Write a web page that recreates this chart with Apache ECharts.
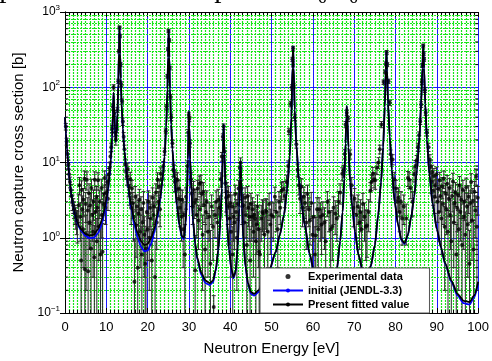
<!DOCTYPE html>
<html>
<head>
<meta charset="utf-8">
<script src="https://cdn.jsdelivr.net/npm/echarts@6/dist/echarts.min.js"></script>
<style>
  html, body { margin: 0; padding: 0; background: #fff; }
  #chart { width: 492px; height: 361px; }
</style>
</head>
<body>
<div id="chart"></div>
<script>
// x ticks / y decades
const xTicks = [0, 10, 20, 30, 40, 50, 60, 70, 80, 90, 100]
const yMinor = [0.2, 0.3, 0.4, 0.5, 0.6, 0.7, 0.8, 0.9, 2, 3, 4, 5, 6, 7, 8, 9,
  20, 30, 40, 50, 60, 70, 80, 90, 200, 300, 400, 500, 600, 700, 800, 900]

// Present fitted value [E (eV), sigma (b)]
const fitCurve = [
  [0,40],[0.25,24],[0.5,15],[0.75,10],[1,6.8],[1.25,5.0],[1.5,3.8],[2,2.6],[2.5,1.95],[3,1.6],[3.5,1.4],[4,1.27],[5,1.12],[6,1.07],[7,1.1],[8,1.3],[8.5,1.5],[9,1.8],[9.5,2.3],[10,3.2],
  [10.4,4.5],[10.8,7],[11.1,11],[11.4,22],[11.6,45],[11.75,85],[11.9,55],[12.1,27],[12.3,19],[12.5,24],[12.7,45],[12.9,110],[13.05,280],[13.2,640],[13.35,280],[13.5,130],[13.7,60],[14,28],[14.4,14],[14.8,8.5],
  [15.3,4.8],[16,2.7],[16.8,1.65],[17.6,1.15],[18.4,0.9],[19.2,0.8],[20,0.83],[20.8,0.98],[21.6,1.3],[22.3,2],[23,3.3],[23.6,6],[24.1,12],[24.5,30],[24.8,95],[24.95,250],[25.1,580],[25.25,250],[25.4,95],[25.7,32],
  [26,15],[26.5,6],[27.1,2.7],[27.7,1.5],[28.3,1.05],[28.8,1.0],[29.2,1.6],[29.5,3.5],[29.75,11],[29.9,28],[30,48],[30.1,30],[30.3,11],[30.6,4.2],[31,1.7],[31.5,0.85],[32,0.55],[33,0.34],[34,0.27],[35,0.25],
  [35.8,0.27],[36.5,0.38],[37.1,0.7],[37.6,1.6],[37.95,4.5],[38.2,13],[38.4,32],[38.6,13],[38.85,4.5],[39.2,1.6],[39.7,0.7],[40.3,0.38],[40.8,0.3],[41.3,0.36],[41.8,0.75],[42.15,2.5],[42.35,6],[42.5,10],[42.65,6],[42.85,2.5],
  [43.2,0.9],[43.7,0.42],[44.3,0.25],[45,0.19],[45.8,0.18],[46.8,0.2],[48,0.26],[49.5,0.38],[51,0.65],[52,1.1],[53,2],[53.8,4.5],[54.4,12],[54.8,40],[55.05,180],[55.2,350],[55.35,180],[55.6,50],[56,17],[56.6,6],
  [57.3,2.7],[58,1.5],[59.2,0.62],[60.5,0.3],[62,0.18],[63.5,0.15],[64.8,0.2],[65.8,0.38],[66.6,0.9],[67.2,2.2],[67.6,6],[67.9,18],[68.1,40],[68.2,56],[68.35,38],[68.6,16],[69,5.5],[69.5,2.6],[70.2,1.2],[71,0.6],
  [72,0.38],[73,0.33],[74,0.42],[75,0.8],[75.8,2],[76.5,5.5],[77,16],[77.4,55],[77.65,170],[77.8,300],[77.95,170],[78.2,60],[78.6,22],[79.1,8],[79.8,3],[80.6,1.5],[81.4,0.95],[82.2,0.85],[83,1.1],[83.8,1.9],
  [84.5,3.5],[85.2,8],[85.8,22],[86.2,60],[86.5,180],[86.7,360],[86.9,180],[87.2,60],[87.6,20],[88.2,7],[89,2.8],[90,1.3],[91,0.75],[92,0.46],[93.5,0.27],[95,0.18],[96.5,0.145],[97.9,0.14],[99,0.17],[100,0.26]
]

// initial (JENDL-3.3), sits a bit lower in the valleys
const initCurve = [
  [0,40],[0.25,24],[0.5,15],[0.75,10],[1,6.8],[1.25,5.0],[1.5,3.8],[2,2.6],[2.5,1.9],[3,1.55],[3.5,1.35],[4,1.22],[5,1.05],[6,0.99],[7,1.0],[8,1.15],[8.5,1.32],[9,1.6],[9.5,2.05],[10,2.9],
  [10.4,4.2],[10.8,6.6],[11.1,10.5],[11.4,21],[11.6,44],[11.75,85],[11.9,55],[12.1,27],[12.3,19],[12.5,24],[12.7,45],[12.9,110],[13.05,280],[13.2,640],[13.35,280],[13.5,130],[13.7,60],[14,28],[14.4,14],[14.8,8.3],
  [15.3,4.6],[16,2.5],[16.8,1.45],[17.6,1.0],[18.4,0.76],[19.2,0.66],[20,0.68],[20.8,0.82],[21.6,1.15],[22.3,1.8],[23,3.1],[23.6,5.8],[24.1,12],[24.5,30],[24.8,95],[24.95,250],[25.1,580],[25.25,250],[25.4,95],[25.7,32],
  [26,15],[26.5,6],[27.1,2.6],[27.7,1.45],[28.3,1.0],[28.8,0.96],[29.2,1.55],[29.5,3.5],[29.75,11],[29.9,28],[30,48],[30.1,30],[30.3,11],[30.6,4.2],[31,1.65],[31.5,0.82],[32,0.52],[33,0.32],[34,0.25],[35,0.235],
  [35.8,0.255],[36.5,0.36],[37.1,0.68],[37.6,1.6],[37.95,4.5],[38.2,13],[38.4,32],[38.6,13],[38.85,4.5],[39.2,1.6],[39.7,0.68],[40.3,0.37],[40.8,0.29],[41.3,0.35],[41.8,0.74],[42.15,2.5],[42.35,6],[42.5,10],[42.65,6],[42.85,2.5],
  [43.2,0.88],[43.7,0.4],[44.3,0.24],[45,0.18],[45.8,0.17],[46.8,0.19],[48,0.25],[49.5,0.37],[51,0.64],[52,1.1],[53,2],[53.8,4.5],[54.4,12],[54.8,40],[55.05,180],[55.2,350],[55.35,180],[55.6,50],[56,17],[56.6,6],
  [57.3,2.7],[58,1.5],[59.2,0.6],[60.5,0.29],[62,0.17],[63.5,0.145],[64.8,0.19],[65.8,0.37],[66.6,0.9],[67.2,2.2],[67.6,6],[67.9,18],[68.1,40],[68.2,56],[68.35,38],[68.6,16],[69,5.5],[69.5,2.6],[70.2,1.2],[71,0.6],
  [72,0.37],[73,0.32],[74,0.41],[75,0.8],[75.8,2],[76.5,5.5],[77,16],[77.4,55],[77.65,170],[77.8,300],[77.95,170],[78.2,60],[78.6,22],[79.1,8],[79.8,3],[80.6,1.5],[81.4,0.93],[82.2,0.83],[83,1.08],[83.8,1.9],
  [84.5,3.5],[85.2,8],[85.8,22],[86.2,60],[86.5,180],[86.7,360],[86.9,180],[87.2,60],[87.6,20],[88.2,7],[89,2.8],[90,1.3],[91,0.74],[92,0.45],[93.5,0.26],[95,0.17],[96.5,0.135],[97.9,0.13],[99,0.16],[100,0.25]
]

// Experimental data [E (eV), sigma (b), error (b)]
const expData = [
  [0.2,30,3],[0.4,19,2],[0.6,13,1.5],[0.8,9.5,1.2],[1.0,7,1],[1.2,5.5,0.9],[1.4,4.3,0.8],[1.6,3.6,0.7],[1.8,3.0,0.7],[2.0,2.7,0.6],[2.2,2.4,0.6],[2.4,2.1,0.6],[2.6,1.9,0.6],[2.8,1.7,0.6],[3.0,1.55,0.7],
  [3.3,2.7,1.1],[3.5,5.0,1.3],[3.7,1.9,1.0],[3.9,0.5,0.9],[4.0,4.3,1.4],[4.2,2.4,1.2],[4.4,1.3,0.9],[4.5,3.2,1.3],[4.7,6.1,1.6],[4.8,0.38,0.8],[5.0,2.8,1.2],[5.1,1.1,0.9],[5.3,5.9,1.6],[5.5,2.3,1.1],[5.6,0.36,0.8],
  [5.8,3.9,1.3],[5.9,1.6,0.9],[6.1,2.7,1.2],[6.3,0.72,0.9],[6.4,4.6,1.4],[6.6,2.0,1.1],[6.8,1.2,0.9],[6.9,3.0,1.3],[7.1,0.55,0.9],[7.2,5.9,1.6],[7.4,2.2,1.1],[7.6,3.5,1.3],[7.7,0.9,0.9],[7.9,2.5,1.1],[8.0,5.8,1.5],
  [8.2,1.4,0.9],[8.4,3.0,1.2],[8.6,0.6,0.9],[8.8,4.6,1.4],[8.9,2.0,1.0],[9.1,0.65,0.9],[9.3,2.8,1.1],[9.5,3.8,1.2],[9.6,6.2,1.5],[9.8,2.5,1.0],[10.0,4.0,1.1],[10.2,5.5,1.2],[10.4,3.3,1.0],
  [10.6,7,1.3],[10.8,8.5,1.4],[11.0,12,1.8],[11.2,16,2],[11.4,28,3],[11.6,55,5],[11.75,100,8],[11.9,45,4],[12.1,25,3],[12.3,20,3],[12.5,28,3],[12.7,50,4],[12.9,120,8],[13.05,300,15],[13.2,620,30],[13.3,480,25],
  [13.45,200,12],[13.6,110,8],[13.8,65,5],[14.0,35,4],[14.2,22,3],[14.4,15,2],[14.6,9.5,1.6],[14.8,7.5,1.5],
  [15.0,6.5,1.5],[15.2,8.2,1.6],[15.4,4.8,1.3],[15.6,3.9,1.2],[15.8,6.0,1.4],[16.0,2.5,1.0],[16.2,4.5,1.3],[16.4,2.9,1.1],[16.6,1.9,1.0],[16.8,0.26,0.7],[17.0,3.5,1.3],[17.2,1.45,0.9],[17.4,2.6,1.1],[17.6,0.4,0.7],
  [17.8,2.1,1.0],[18.0,3.2,1.2],[18.2,1.2,0.8],[18.4,2.4,1.1],[18.6,0.6,0.8],[18.8,1.6,0.9],[19.0,2.9,1.2],[19.2,1.1,0.8],[19.4,0.45,0.8],[19.6,0.72,0.7],[19.8,2.2,1.0],[20.0,1.3,0.8],[20.2,3.0,1.2],[20.4,1.0,0.8],
  [20.6,2.5,1.1],[20.8,1.8,1.0],[21.0,0.5,0.8],[21.2,3.4,1.2],[21.4,2.0,1.0],[21.6,2.6,1.1],[21.8,0.3,0.6],[22.0,4.0,1.2],[22.2,1.6,0.9],[22.4,5.9,1.4],[22.6,3.0,1.1],[22.8,4.8,1.2],[23.0,2.4,1.0],[23.2,7.1,1.4],
  [23.5,6.0,1],[23.8,9,1.3],[24.1,14,1.5],[24.4,26,2],[24.6,55,4],[24.8,140,8],[24.95,320,15],[25.05,560,30],[25.2,420,20],[25.35,180,10],[25.5,75,5],[25.7,40,4],[26.0,18,2],[26.2,8,1.5],
  [26.4,7.8,1.4],[26.6,5.5,1.4],[26.8,6,1.4],[27.0,4.3,1.3],[27.2,5.9,1.4],[27.4,3.3,1.2],[27.6,4.5,1.3],[27.8,2.5,1.1],[28.0,3.2,1.1],[28.2,1.9,1.0],[28.4,3.2,1.1],[28.6,1.3,0.9],[28.8,2.0,1.0],[29.0,0.6,0.9],[29.3,3.5,1.1],
  [29.6,9,1.5],[29.8,25,2.5],[29.95,43,3.5],[30.1,38,3],[30.25,18,2],[30.5,6,1.3],
  [30.7,3.9,1.3],[30.9,2.6,1.1],[31.1,4.3,1.3],[31.3,2.9,1.1],[31.5,0.37,0.7],[31.7,3.2,1.2],[31.9,2.0,1.0],[32.1,4.5,1.3],[32.3,1.7,1.0],[32.5,5.2,1.4],[32.7,2.4,1.1],[32.9,5.4,1.4],[33.1,3.8,1.2],[33.3,1.1,0.9],
  [33.5,4.1,1.3],[33.7,2.7,1.1],[33.9,0.7,0.8],[34.1,2.2,1.0],[34.3,3.0,1.2],[34.6,1.2,0.9],[34.9,1.9,1.0],[35.2,0.45,0.8],[35.5,2.6,1.1],[35.8,1.4,0.9],[36.0,0.12,0.05],[36.3,2.0,1.0],[36.6,3.0,1.2],[36.9,1.6,0.9],
  [37.1,3.2,1.2],[37.4,2.5,1.1],
  [37.7,6,1.3],[37.95,12,1.6],[38.2,22,2],[38.4,30,2.5],[38.6,14,1.6],[38.8,5.3,1.3],
  [39.0,3.4,1.2],[39.2,4.1,1.3],[39.4,2.6,1.1],[39.6,3.6,1.2],[39.8,1.8,1.0],[40.0,2.9,1.1],[40.2,1.2,0.9],[40.4,2.6,1.1],[40.6,0.6,0.8],[40.8,1.9,1.0],[41.0,1.6,0.9],[41.2,3.8,1.2],[41.4,2.2,1.0],[41.6,1.0,0.8],
  [41.8,2.8,1.1],[42.0,4.5,1.3],[42.3,8.5,1.5],[42.5,10,1.5],[42.7,4.5,1.3],
  [42.9,2.6,1.1],[43.2,2.7,1.1],[43.4,1.6,0.9],[43.6,3.4,1.2],[43.8,2.0,1.0],[44.0,0.8,0.8],[44.2,3.6,1.2],[44.4,2.5,1.1],[44.6,1.9,1.0],[44.8,0.5,0.8],[45.0,2.8,1.1],[45.2,1.9,1.0],[45.4,2.4,1.0],[45.6,1.2,0.9],
  [45.8,2.0,1.0],[46.0,1.8,0.9],[46.2,0.9,0.8],[46.4,1.5,0.9],[46.6,2.6,1.1],[46.8,1.3,0.9],[47.0,0.65,0.7],[47.2,0.6,0.7],[47.5,1.8,0.9],[47.8,2.2,1.0],[48.0,2.1,1.0],[48.3,1.1,0.8],[48.6,2.3,1.0],[48.8,2.2,1.0],
  [49.1,1.2,0.8],[49.4,2.8,1.1],[49.7,1.5,0.9],[50.0,2.0,1.0],[50.4,1.9,1.0],[50.8,3.5,1.2],[51.1,2.2,1.0],[51.5,1.3,0.9],[51.8,3.0,1.1],[52.1,2.5,1.0],[52.4,4.2,1.2],[52.8,4.4,1.2],[53.2,3.6,1.1],[53.6,5.5,1.3],
  [54.0,9,1.5],[54.2,26,2.5],[54.6,60,5],[54.9,100,8],[55.05,235,15],[55.2,330,20],[55.35,105,8],[55.6,40,4],[56.0,17.5,2],[56.3,8,1.5],
  [56.6,5.0,1.3],[56.9,3.3,1.2],[57.2,4.8,1.3],[57.5,2.5,1.1],[57.8,3.5,1.2],[58.1,2.9,1.1],[58.4,1.6,0.9],[58.7,3.8,1.2],[59.0,2.4,1.0],[59.3,1.7,0.9],[59.6,2.9,1.1],[59.9,1.1,0.8],[60.2,1.9,1.0],[60.5,0.6,0.8],
  [60.7,1.07,0.8],[61.0,2.4,1.0],[61.3,1.3,0.9],[61.5,2.4,1.0],[61.8,1.9,1.0],[62.1,1.5,0.9],[62.4,2.0,1.0],[62.8,1.6,0.9],[63.1,0.9,0.8],[63.5,3.0,1.1],[63.9,2.2,1.0],[64.3,1.3,0.9],[64.7,1.4,0.9],[65.0,2.5,1.0],
  [65.4,2.1,1.0],[65.8,1.8,0.9],[66.2,3.0,1.1],[66.6,4.0,1.2],
  [67.1,7.1,1.4],[67.4,7.8,1.4],[67.7,13,1.8],[67.9,32,3],[68.2,46,4],[68.5,38,3],[69.0,12.9,1.8],[69.4,5,1.3],
  [69.8,2.5,1.1],[70.1,3.3,1.2],[70.5,2.0,1.0],[70.9,2.6,1.1],[71.3,1.6,0.9],[71.5,2.2,1.0],[71.8,1.3,0.9],[72.1,2.8,1.1],[72.5,1.9,1.0],[72.8,1.4,0.9],[73.1,1.45,0.9],[73.5,2.2,1.0],[73.9,4.2,1.2],[74.2,5.5,1.3],
  [74.5,7.1,1.5],[74.8,6.0,1.4],[75.1,5.8,1.4],[75.5,8.5,1.6],[75.9,10,1.6],
  [76.2,15,2],[76.6,32,3],[77.1,117,8],[77.5,160,10],[77.7,205,12],[77.85,290,18],[78.0,200,12],[78.3,120,8],[78.6,62,5],[78.8,12.9,1.8],[79.3,11,1.7],
  [79.7,6,1.4],[80.1,4.5,1.3],[80.4,3.0,1.1],[80.7,3.4,1.2],[81.0,2.2,1.0],[81.3,3.0,1.1],[81.6,1.8,1.0],[82.0,2.6,1.1],[82.6,1.8,1.0],[83.0,6.2,1.4],[83.3,5.9,1.4],[83.7,4.6,1.3],[84.1,3.0,1.1],[84.5,7,1.5],
  [84.8,9,1.6],[85.1,10.7,1.7],
  [85.4,16,2],[85.7,23,2.5],[86.0,35,3],[86.2,59,5],[86.4,117,8],[86.55,195,12],[86.7,355,20],[86.8,280,16],[86.9,235,14],[87.1,92,7],[87.3,46,4],[87.6,25,2.5],[88.0,16,2],[88.3,11,1.7],
  [88.5,8.7,1.8],[88.7,5.5,1.6],[88.9,7.5,1.7],[89.1,4.2,1.5],[89.3,6.6,1.7],[89.5,3.5,1.4],[89.7,5.0,1.6],[89.9,7.0,1.7],[90.1,3.0,1.4],[90.3,4.5,1.5],[90.5,2.2,1.3],[90.7,5.8,1.6],[90.9,3.6,1.4],[91.1,1.8,1.2],
  [91.3,4.8,1.5],[91.5,2.8,1.3],[91.7,6.1,1.6],[91.9,1.4,1.2],[92.1,3.9,1.4],[92.3,2.4,1.3],[92.5,5.2,1.5],[92.7,1.2,1.1],[92.9,3.3,1.4],[93.1,4.6,1.5],[93.3,2.0,1.3],[93.5,0.9,1.0],[93.7,3.6,1.4],[93.9,5.6,1.6],
  [94.1,1.6,1.2],[94.3,2.9,1.3],[94.5,4.0,1.4],[94.7,0.6,0.9],[94.9,2.5,1.3],[95.1,3.7,1.4],[95.3,1.3,1.1],[95.5,5.0,1.5],[95.7,2.2,1.3],[95.9,3.2,1.4],[96.1,0.8,1.0],[96.3,4.3,1.5],[96.5,1.9,1.2],[96.7,3.0,1.3],
  [96.9,1.1,1.1],[97.1,4.7,1.5],[97.3,2.6,1.3],[97.5,1.5,1.2],[97.7,3.5,1.4],[97.9,0.45,0.8],[98.1,2.9,1.3],[98.3,5.5,1.6],[98.5,1.7,1.2],[98.7,3.1,1.4],[98.9,0.7,1.0],[99.1,4.1,1.5],[99.3,2.3,1.3],[99.5,6.5,1.7],
  [99.7,1.4,1.2],[99.9,3.4,1.4]
]

const FONT = '"Liberation Sans", Arial, sans-serif'
const GREEN = '#19e619'

const chart = echarts.init(document.getElementById('chart'), null, { renderer: 'canvas' })

// error bars: vertical line with small caps, clipped at the bottom of the plot
const renderErr = (params, api) => {
	const e = api.value(0)
	const lo = api.value(1)
	const hi = api.value(2)
	const cs = params.coordSys
	const bottom = cs.y + cs.height
	const pHi = api.coord([e, hi])
	let yLo = lo > 0 ? api.coord([e, lo])[1] : bottom
	const hasCap = lo > 0 && yLo < bottom
	yLo = Math.min(yLo, bottom)
	const x = pHi[0]
	const st = { stroke: '#2a2a2a', lineWidth: 1 }
	const children = [
		{ type: 'line', shape: { x1: x, y1: pHi[1], x2: x, y2: yLo }, style: st },
		{ type: 'line', shape: { x1: x - 2, y1: pHi[1], x2: x + 2, y2: pHi[1] }, style: st },
	]
	if (hasCap) children.push({ type: 'line', shape: { x1: x - 2, y1: yLo, x2: x + 2, y2: yLo }, style: st })
	return { type: 'group', children }
}

// inner minor ticks (log minors) on the left/right frame
const renderMinorTick = (params, api) => {
	const cs = params.coordSys
	const y = api.coord([0, api.value(1)])[1]
	const tick = { stroke: '#000', lineWidth: 1 }
	return {
		type: 'group',
		children: [
			{ type: 'line', shape: { x1: cs.x, y1: y, x2: cs.x + 3, y2: y }, style: tick },
			{ type: 'line', shape: { x1: cs.x + cs.width - 3, y1: y, x2: cs.x + cs.width, y2: y }, style: tick },
		],
	}
}

const supLabel = (v) => {
	const p = Math.round(Math.log10(v))
	return '{b|10}{s|' + (p < 0 ? '\u2212' + (-p) : p) + '}'
}

const xAxisBase = {
	type: 'value',
	min: 0,
	max: 100,
	interval: 10,
	axisLine: { show: true, lineStyle: { color: '#000', width: 1 } },
	axisTick: { show: true, inside: true, length: 5, lineStyle: { color: '#000' } },
	minorTick: { show: true, splitNumber: 10, length: 3, lineStyle: { color: '#000' } },
}

const option = {
	backgroundColor: '#fff',
	animation: false,
	graphic: [
		{
			type: 'text',
			left: -12,
			top: -25,
			z: 100,
			style: { text: 'spectrometer and a pair of C\u2086D\u2086 detectors.', font: '29px "Liberation Serif", "DejaVu Serif", serif', fill: '#000' },
		},
	],
	grid: { left: 65, right: 10, top: 12, bottom: 42, show: false },
	legend: {
		orient: 'vertical',
		left: 260,
		top: 268,
		itemWidth: 30,
		itemHeight: 5,
		itemGap: 3,
		padding: [3, 20, 3, 12],
		backgroundColor: '#fff',
		borderColor: '#555',
		borderWidth: 1,
		borderRadius: 0,
		z: 10,
		textStyle: { fontFamily: FONT, fontWeight: 'bold', fontSize: 11, color: '#000', lineHeight: 11 },
		data: ['Experimental data', 'initial (JENDL-3.3)', 'Present fitted value'],
	},
	xAxis: [
		Object.assign({}, xAxisBase, {
			position: 'bottom',
			name: 'Neutron Energy [eV]',
			nameLocation: 'middle',
			nameGap: 28,
			nameTextStyle: { fontFamily: FONT, fontSize: 15, color: '#000' },
			axisLabel: { fontFamily: FONT, fontSize: 13, color: '#000', margin: 8, customValues: xTicks },
			splitLine: { show: true, lineStyle: { color: '#1a1aff', width: 1 } },
			minorSplitLine: { show: true, lineStyle: { color: GREEN, width: 1.2, type: [2, 1] } },
		}),
		Object.assign({}, xAxisBase, {
			position: 'top',
			axisLabel: { show: false },
			splitLine: { show: false },
		}),
	],
	yAxis: [
		{
			type: 'log',
			logBase: 10,
			min: 0.1,
			max: 1000,
			position: 'left',
			name: 'Neutron capture cross section [b]',
			nameLocation: 'middle',
			nameGap: 37,
			nameTextStyle: { fontFamily: FONT, fontSize: 15, color: '#000' },
			axisLine: { show: true, lineStyle: { color: '#000', width: 1 } },
			axisTick: { show: true, inside: true, length: 5, lineStyle: { color: '#000' } },
			axisLabel: {
				margin: 5,
				formatter: supLabel,
				rich: {
					b: { fontFamily: FONT, fontSize: 12, color: '#000', lineHeight: 16 },
					s: { fontFamily: FONT, fontSize: 8, color: '#000', verticalAlign: 'top', lineHeight: 9 },
				},
			},
			splitLine: { show: true, lineStyle: { color: '#1a1aff', width: 1 } },
		},
		{
			type: 'log',
			logBase: 10,
			min: 0.1,
			max: 1000,
			position: 'right',
			axisLine: { show: true, lineStyle: { color: '#000', width: 1 } },
			axisTick: { show: true, inside: true, length: 5, lineStyle: { color: '#000' } },
			axisLabel: { show: false },
			splitLine: { show: false },
		},
	],
	series: [
		{
			name: 'minorGrid',
			type: 'custom',
			renderItem: renderMinorTick,
			data: yMinor.map((v) => [0, v]),
			encode: { x: 0, y: 1 },
			silent: true,
			z: 1,
			markLine: {
				silent: true,
				z: 1,
				symbol: ['none', 'none'],
				label: { show: false },
				emphasis: { disabled: true },
				lineStyle: { color: GREEN, width: 1.2, type: [2, 1], opacity: 1 },
				data: yMinor.map((v) => ({ yAxis: v })),
			},
		},
		{
			name: 'errors',
			type: 'custom',
			renderItem: renderErr,
			data: expData.map((d) => [d[0], d[1] - d[2], d[1] + d[2]]),
			encode: { x: 0, y: [1, 2] },
			silent: true,
			z: 3,
		},
		{
			name: 'Experimental data',
			type: 'scatter',
			symbol: 'circle',
			symbolSize: 4,
			itemStyle: { color: '#000' },
			data: expData.map((d) => [d[0], d[1]]),
			z: 4,
		},
		{
			name: 'initial (JENDL-3.3)',
			type: 'line',
			data: initCurve,
			showSymbol: false,
			symbol: 'circle',
			smooth: 0.25,
			smoothMonotone: 'x',
			lineStyle: { color: '#0000ff', width: 1.8 },
			itemStyle: { color: '#0000ff' },
			z: 5,
		},
		{
			name: 'Present fitted value',
			type: 'line',
			data: fitCurve,
			showSymbol: false,
			symbol: 'circle',
			smooth: 0.25,
			smoothMonotone: 'x',
			lineStyle: { color: '#000', width: 1.8 },
			itemStyle: { color: '#000' },
			z: 6,
		},
	],
}

chart.setOption(option)
</script>
</body>
</html>
